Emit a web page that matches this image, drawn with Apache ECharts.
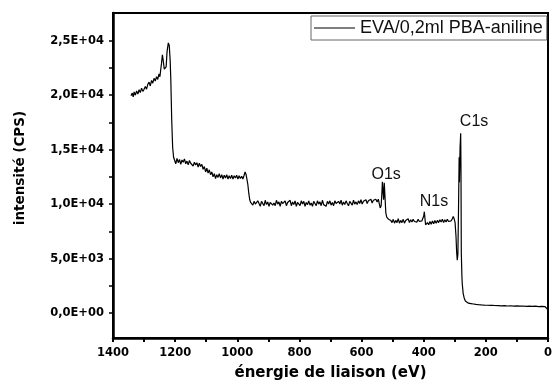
<!DOCTYPE html>
<html>
<head>
<meta charset="utf-8">
<script src="https://cdn.jsdelivr.net/npm/echarts@6.0.0/dist/echarts.min.js"></script>
<style>
html,body{margin:0;padding:0;background:#fff;}
#chart{width:555px;height:391px;}
</style>
</head>
<body>
<div id="chart"></div>
<script>
// ---- data: [binding energy (eV), intensity (CPS)] ----
const bandHigh = [
[1342,19950],[1338,20200],[1335,19850],[1332,20300],[1328,20000],[1324,20400],[1320,20100],[1316,20500],
[1312,20250],[1308,20650],[1304,20350],[1300,20550],[1296,20800],[1292,20550],[1288,21000],[1284,21200],
[1280,20850],[1276,21350],[1272,21100],[1268,21550],[1264,21300],[1260,21700],[1256,21450],[1252,21950],
[1249,21700],[1247,22200],[1244,22900],[1241,23700],[1238,23100],[1235,22400],[1232,22300],[1229,22600],
[1226,24000],[1222,24800],[1219,24600],[1216,23200],[1214,21500],[1211,17700],[1208,15200],[1205,14300],[1202,14050]
];
const plateauHigh = [
[1198,13700],[1194,14200],[1190,13800],[1186,14100],[1182,13650],[1178,14050],[1174,13850],[1170,14150],
[1166,13700],[1162,13950],[1158,13600],[1154,14000],[1150,13750],[1146,13900],[1142,13500],[1138,13850],
[1134,13600],[1130,13800],[1126,13400],[1122,13750],[1118,13450],[1114,13650],[1110,13200],[1106,13450],
[1102,12950],[1098,13300],[1094,12850],[1090,13150],[1086,12700],[1082,12950],[1078,12500],[1074,12800],
[1070,12350],[1066,12700],[1062,12450],[1058,12800],[1054,12400],[1050,12700],[1046,12300],[1042,12650],
[1038,12400],[1034,12700],[1030,12300],[1026,12600],[1022,12350],[1018,12650],[1014,12300],[1010,12600],
[1006,12400],[1002,12650],[998,12300],[994,12600],[990,12350],[986,12550],[982,12300],[978,12650],
[975,12950],[972,12750],[969,12300],[966,11800],[963,11000],[960,10400],[957,10150]
];
const plateauMid = [
[954,10300],[950,9900],[946,10250],[942,10000],[938,9850],[934,10300],[930,10050],[926,9800],
[922,10250],[918,10100],[914,9850],[910,10350],[906,9950],[902,10200],[898,9800],[894,10150],
[890,10300],[886,9900],[882,10100],[878,9850],[874,10350],[870,10000],[866,10200],[862,9800],
[858,10250],[854,10050],[850,9900],[846,10300],[842,9850],[838,10150],[834,10000],[830,10350],
[826,9850],[822,10200],[818,9950],[814,10300],[810,9800],[806,10150],[802,10050],[798,9850],
[794,10300],[790,10000],[786,10250],[782,9800],[778,10150],[774,9950],[770,10300],[766,9900],
[762,10100],[758,9800],[754,10250],[750,10050],[746,9850],[742,10300],[738,10000],[734,10200],
[730,9850],[726,10350],[722,9950],[718,10100],[714,9800],[710,10250],[706,10000],[702,10300],
[698,9900],[694,10150],[690,9850],[686,10300],[682,10050],[678,9900],[674,10250],[670,10000],
[666,10350],[662,9900],[658,10200],[654,9950],[650,10300],[646,10050],[642,9850],[638,10250],
[634,10100],[630,9900],[626,10350],[622,10000],[618,10200],[614,9950],[610,10300],[606,10050],
[602,10400],[598,10000],[594,10250],[590,10100],[586,10400],[582,10050],[578,10300],[574,10150],
[570,10450],[566,10100],[562,10350],[558,10200],[554,10450]
];
const o1sRegion = [
[550,10200],[546,10450],[543,10050],[540,9650],[537,9850],[535,10800],[533,12050],[531,11900],
[529,10400],[527,11950],[525,10900],[522,9200],[519,8800],[516,8950],[513,8600],[510,8700],[506,8500]
];
const n1sRegion = [
[502,8300],[498,8600],[494,8250],[490,8500],[486,8300],[482,8650],[478,8250],[474,8500],[470,8300],
[466,8600],[462,8250],[458,8500],[454,8350],[450,8650],[446,8300],[442,8550],[438,8350],[434,8600],
[430,8400],[426,8550],[422,8350],[418,8600],[414,8400],[410,8550],[406,8450],[403,8600],[400,8900],
[398,9300],[396,9250],[394,8100],[391,7950],[388,8300],[384,8100],[380,8400],[376,8150],[372,8450],
[368,8200],[364,8500],[360,8250],[356,8500],[352,8300],[348,8550],[344,8350],[340,8600],[336,8300],
[332,8550],[328,8350],[324,8600],[320,8400],[316,8550],[312,8450],[308,8650],[305,8850],[302,8650],[299,8300]
];
const c1sRegion = [
[296,7000],[294,5600],[292,4850],[290,5400],[288,9500],[286,14300],[285,12000],[283,15200],
[281,16500],[280,13000],[279,5500],[277,3300],[276,2700],[273,1800],[270,1400],[266,1100],[263,1000]
];
const tailRegion = [
[260,950],[256,900],[252,920],[248,860],[244,800],[240,820],[236,770],[232,780],[228,740],[224,760],
[220,720],[215,740],[210,700],[205,720],[200,690],[195,710],[190,680],[185,700],[180,670],[175,690],
[170,660],[160,680],[150,650],[140,670],[130,640],[120,660],[110,630],[100,650],[90,620],[80,640],
[70,610],[60,630],[50,600],[40,620],[30,590],[20,610],[10,590],[5,560],[2,350],[0,100]
];
const seriesName = 'EVA/0,2ml PBA-aniline';
const peakNames = ['O1s','N1s','C1s'];
const peakEnergies = [521, 367, 238];
const peakCounts = [12670, 10220, 17540];
const yLabelValues = [0,5000,10000,15000,20000,25000];
const yTickValues = [0,2500,5000,7500,10000,12500,15000,17500,20000,22500,25000];
const xLabelValues = [0,200,400,600,800,1000,1200,1400];
const xTickValues = [0,100,200,300,400,500,600,700,800,900,1000,1100,1200,1300,1400];

const spectrum = [].concat(bandHigh, plateauHigh, plateauMid, o1sRegion, n1sRegion, c1sRegion, tailRegion);
const peakData = peakNames.map((n,i)=>({name:n, value:[peakEnergies[i], peakCounts[i]]}));

function sci(v){
  if (v === 0) return '0,0E+00';
  const e = Math.floor(Math.log10(Math.abs(v)));
  const m = v/Math.pow(10,e);
  return m.toFixed(1).replace('.',',') + 'E+' + (e<10?'0':'') + e;
}

const tickFont = {fontFamily:'DejaVu Sans', fontWeight:'bold', fontSize:11.5, color:'#000'};
const chart = echarts.init(document.getElementById('chart'), null, {renderer:'canvas'});
chart.setOption({
  animation:false,
  backgroundColor:'#fff',
  grid:{left:113, right:3, top:13, bottom:53, show:true, borderColor:'#000', borderWidth:2, backgroundColor:'transparent'},
  legend:{
    data:[{name:seriesName, icon:'path://M0,0 L41,0 L41,1.5 L0,1.5 Z'}],
    left:311, top:16, orient:'horizontal', symbolKeepAspect:true,
    itemWidth:41, itemHeight:18, itemGap:6, padding:[3,4,3,3],
    backgroundColor:'#fff', borderColor:'#666', borderWidth:1,
    textStyle:{fontFamily:'Liberation Sans', fontSize:18, color:'#111'},
    itemStyle:{color:'#555', borderWidth:0}
  },
  xAxis:{
    type:'value', inverse:true, min:0, max:1400,
    name:'énergie de liaison (eV)', nameLocation:'middle', nameGap:28,
    nameTextStyle:{fontFamily:'DejaVu Sans', fontWeight:'bold', fontSize:15, color:'#000'},
    axisLine:{show:true, onZero:false, lineStyle:{color:'#000', width:2.5}},
    axisTick:{show:true, inside:false, length:4, lineStyle:{color:'#000', width:2}, customValues:xTickValues},
    axisLabel:Object.assign({margin:9, customValues:xLabelValues, formatter:v=>String(v)}, tickFont),
    splitLine:{show:false}
  },
  yAxis:{
    type:'value', min:-2300, max:27550,
    name:'intensité (CPS)', nameLocation:'middle', nameGap:86, nameRotate:90,
    nameTextStyle:{fontFamily:'DejaVu Sans', fontWeight:'bold', fontSize:13.5, color:'#000', padding:[0,0,0,15]},
    axisLine:{show:true, onZero:false, lineStyle:{color:'#000', width:2.5}},
    axisTick:{show:true, inside:false, length:4, lineStyle:{color:'#000', width:1.5}, customValues:yTickValues},
    axisLabel:Object.assign({margin:9, customValues:yLabelValues, formatter:v=>sci(v)}, tickFont),
    splitLine:{show:false}
  },
  series:[
    {
      name:seriesName, type:'line', data:spectrum, symbol:'none', showSymbol:false,
      lineStyle:{color:'#000', width:1.2}, itemStyle:{color:'#555'}, z:3
    },
    {
      name:'peaks', type:'scatter', data:peakData, symbolSize:0, silent:true,
      itemStyle:{opacity:1, color:'#000'},
      label:{show:true, position:'inside', formatter:p=>p.name, opacity:1,
        fontFamily:'Liberation Sans', fontSize:16, color:'#111', textBorderWidth:0}
    }
  ]
});
</script>
</body>
</html>
